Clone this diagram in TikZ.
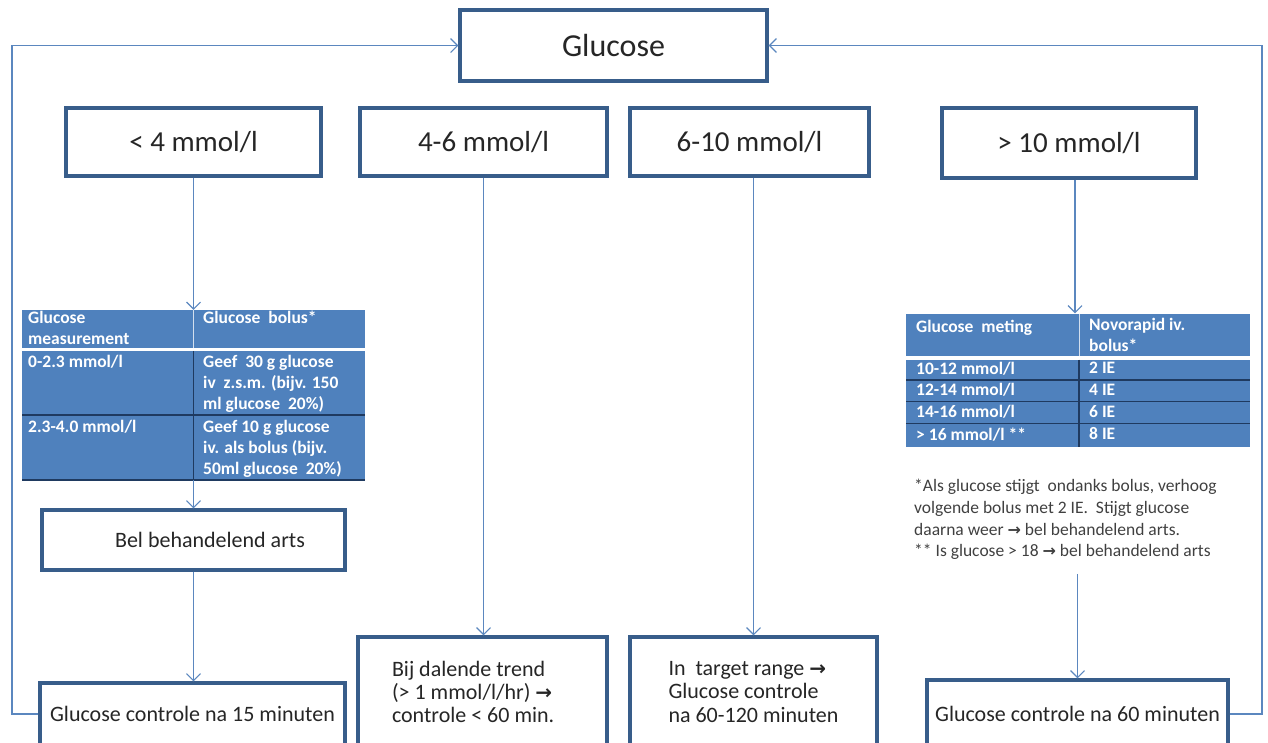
\documentclass[tikz,border=0pt]{standalone}
\usepackage{fontspec}
\setmainfont{Carlito}
\newfontfamily\arr{DejaVu Sans}
\newcommand\myarr[1]{{\arr\bfseries\fontsize{#1}{#1}\selectfont →}}
\usetikzlibrary{arrows.meta,calc}
\definecolor{boxline}{HTML}{385D8A}
\definecolor{connc}{HTML}{5B87BF}
\definecolor{tabfill}{HTML}{4F81BD}
\definecolor{tabline}{HTML}{1F3A60}
\definecolor{textc}{HTML}{262626}
\definecolor{notec}{HTML}{404040}
\begin{document}
\begin{tikzpicture}[x=1pt,y=-1pt,
  box/.style={draw=boxline, line width=3.4pt, fill=white, text=textc, inner sep=0pt},
  hdr/.style={font=\fontsize{29}{34}\selectfont},
  body/.style={font=\fontsize{22}{23.2}\selectfont},
  conn/.style={draw=connc, line width=1.1pt, -{Straight Barb[length=7pt,width=14pt]}},
  cell/.style={anchor=north west, align=left, inner sep=0pt, text=white, font=\fontsize{17.5}{20.8}\selectfont\bfseries},
  tab/.style={fill=tabfill, inner sep=0pt}
]
\useasboundingbox (0,0) rectangle (1268,742);
\clip (0,0) rectangle (1268,742);

% top node
\node[box, minimum width=307pt, minimum height=71pt, font=\fontsize{32}{38}\selectfont] (glc) at (613.5,45.5) {Glucose};

% range boxes
\node[box, hdr, minimum width=255pt, minimum height=68pt] (lt) at (193.5,142) {< 4 mmol/l};
\node[box, hdr, minimum width=247pt, minimum height=68pt] (b46) at (483.5,142) {4-6 mmol/l};
\node[box, hdr, minimum width=239pt, minimum height=68pt] (b610) at (749.5,142) {6-10 mmol/l};
\node[box, hdr, minimum width=254pt, minimum height=70pt] (gt) at (1069,143) {> 10 mmol/l};

% left table
\node[tab, minimum width=343pt, minimum height=170pt] (tabL) at (193.5,395) {};
\draw[white, line width=3pt] (22,349.5) -- (365,349.5);
\draw[white!75!tabfill, line width=0.8pt] (193,310) -- (193,348);
\draw[tabline, line width=0.8pt] (193,351) -- (193,480);
\draw[tabline, line width=1.4pt] (22,415) -- (365,415);
\draw[tabline, line width=1.6pt] (22,480) -- (365,480);
\node[cell] (tl1) at (28,311) {Glucose\\measurement};
\node[cell] (tl2) at (203,311) {Glucose\ \ bolus*};
\node[cell] (tl3) at (28,355) {0-2.3 mmol/l};
\node[cell] (tl4) at (203,355) {Geef\ \ 30 g glucose\\iv\ \ z.s.m. (bijv. 150\\ml glucose\ \ 20\%)};
\node[cell] (tl5) at (28,420.5) {2.3-4.0 mmol/l};
\node[cell] (tl6) at (203,420.5) {Geef 10 g glucose\\iv. als bolus (bijv.\\50ml glucose\ \ 20\%)};

% right table
\node[tab, minimum width=344pt, minimum height=133pt] (tabR) at (1078,380) {};
\draw[white, line width=4pt] (906,357.5) -- (1250,357.5);
\draw[white!75!tabfill, line width=0.8pt] (1079,313.5) -- (1079,355.5);
\draw[tabline, line width=1.4pt] (1079,359.5) -- (1079,446.5);
\draw[tabline, line width=1.4pt] (906,380) -- (1250,380);
\draw[tabline, line width=1.4pt] (906,401.5) -- (1250,401.5);
\draw[tabline, line width=1.4pt] (906,423.5) -- (1250,423.5);
\node[cell] (tr1) at (916,319.5) {Glucose\ \ meting};
\node[cell] (tr2) at (1089,318) {Novorapid iv.\\bolus*};
\node[cell] (tr3) at (916,362) {10-12 mmol/l};
\node[cell] (tr4) at (1089,362) {2 IE};
\node[cell] (tr5) at (916,383.5) {12-14 mmol/l};
\node[cell] (tr6) at (1089,383.5) {4 IE};
\node[cell] (tr7) at (916,405.5) {14-16 mmol/l};
\node[cell] (tr8) at (1089,405.5) {6 IE};
\node[cell] (tr9) at (916,427.5) {> 16 mmol/l **};
\node[cell] (tr10) at (1089,427.5) {8 IE};

% note
\node[anchor=north west, align=left, inner xsep=0pt, inner ysep=14pt, text=notec,
      font=\fontsize{17.5}{21.7}\selectfont] (note) at (914,465)
  {*Als glucose stijgt\ \ ondanks bolus, verhoog\\
   volgende bolus met 2 IE.\ \ Stijgt glucose\\
   daarna weer \myarr{16} bel behandelend arts.\\
   ** Is glucose > 18 \myarr{16} bel behandelend arts};

% middle and bottom boxes
\node[box, body, minimum width=303pt, minimum height=60pt] (bel) at (193.5,540) {\hspace*{33pt}Bel behandelend arts};
\node[box, body, minimum width=305pt, minimum height=62pt] (c15) at (192.5,714) {Glucose controle na 15 minuten};
\node[box, body, minimum width=249pt, minimum height=110pt, align=left] (dal) at (482.5,692)
  {\makebox[181pt][l]{Bij dalende trend}\\(> 1 mmol/l/hr) \myarr{20}\\controle < 60 min.};
\node[box, body, minimum width=247pt, minimum height=110pt, align=left] (tgt) at (753.5,692)
  {In\ \ target range \myarr{20}\\Glucose controle\\\makebox[170pt][l]{na 60-120 minuten}};
\node[box, body, minimum width=301pt, minimum height=68pt] (c60) at (1077.5,714) {Glucose controle na 60 minuten};

% loop coordinates
\coordinate (lloop) at (12,47);
\coordinate (rloop) at (1262,47);

% connectors
\draw[conn] (lt.south) -- (tabL.north);
\draw[conn] (tabL.south) -- (bel.north);
\draw[conn] (bel.south) -- (bel.south |- c15.north);
\draw[conn] (c15.west) -- (c15.west -| lloop) |- (glc.west);
\draw[conn] (b46.south) -- (b46.south |- dal.north);
\draw[conn] (tgt.north |- b610.south) -- (tgt.north);
\draw[conn] ([xshift=6pt]gt.south) -- ([xshift=6pt]gt.south |- tabR.north);
\draw[conn] (note.south -| c60.north) -- (c60.north);
\draw[conn] (c60.east) -- (c60.east -| rloop) |- (glc.east);
\end{tikzpicture}
\end{document}
